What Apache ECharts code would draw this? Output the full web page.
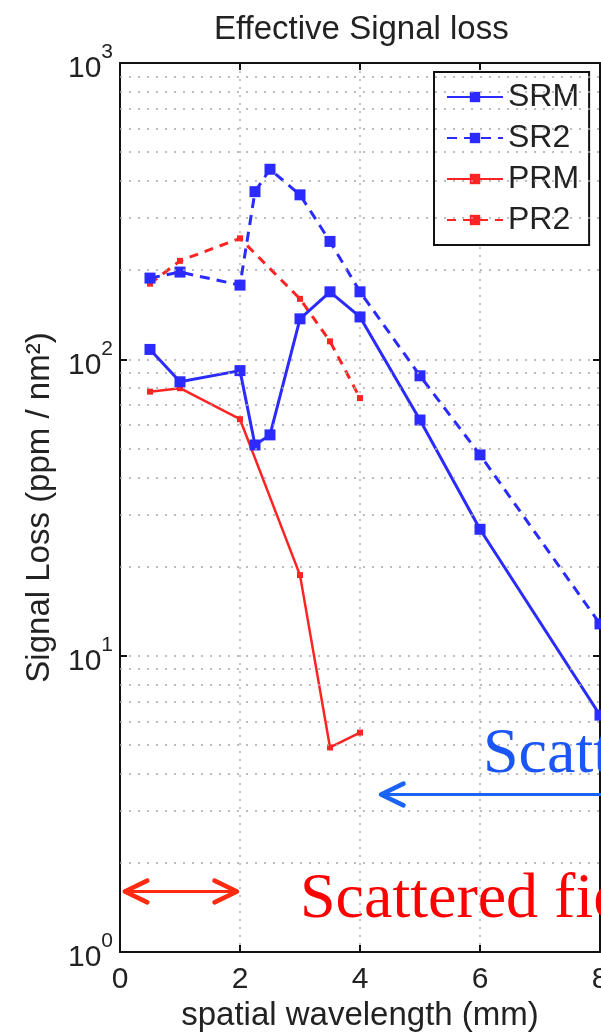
<!DOCTYPE html>
<html>
<head>
<meta charset="utf-8">
<script src="https://cdn.jsdelivr.net/npm/echarts@6.0.0/dist/echarts.min.js"></script>
<style>
  html, body { margin: 0; padding: 0; background: #fff; }
  #chart { width: 601px; height: 1033px; }
</style>
</head>
<body>
<div id="chart"></div>
<script>
// values
const xTicks = [0, 2, 4, 6, 8];
const sX = [0.5, 1, 2, 2.25, 2.5, 3, 3.5, 4, 5, 6, 8];
const srmY = [108, 84, 91.6, 51.4, 55.6, 137, 169, 139, 62.4, 26.7, 6.3];
const sr2Y = [188, 197, 178, 368, 438, 359, 250, 169, 88, 47.6, 12.8];
const pX = [0.5, 1, 2, 3, 3.5, 4];
const prmY = [77.8, 79.9, 62.8, 18.7, 4.9, 5.5];
const pr2Y = [180, 215, 256, 160, 115, 74];
const minorY = [2, 3, 4, 5, 6, 7, 8, 9, 20, 30, 40, 50, 60, 70, 80, 90, 200, 300, 400, 500, 600, 700, 800, 900];
const seriesNames = ['SRM', 'SR2', 'PRM', 'PR2'];

const BLUE = '#2b2bff';
const RED = '#ff2424';
const SANS = 'Liberation Sans, Arial, sans-serif';
const SERIF = 'Liberation Serif, Times New Roman, serif';

const pairs = (xs, ys) => xs.map((x, i) => [x, ys[i]]);

const chart = echarts.init(document.getElementById('chart'));

const option = {
  animation: false,
  backgroundColor: '#fff',
  title: {
    text: 'Effective Signal loss',
    left: 209,
    top: 8,
    textStyle: { fontFamily: SANS, fontSize: 33, fontWeight: 'normal', color: '#222' }
  },
  legend: {
    data: seriesNames,
    orient: 'vertical',
    left: 434,
    top: 72,
    padding: [9, 10, 9, 12],
    itemGap: 9,
    itemWidth: 56,
    itemHeight: 13,
    backgroundColor: '#fff',
    borderColor: '#111',
    borderWidth: 2,
    textStyle: { fontFamily: SANS, fontSize: 32, color: '#222', lineHeight: 32 }
  },
  grid: { left: 120, right: 1, top: 63, bottom: 81, containLabel: false, outerBoundsMode: 'none' },
  xAxis: [{
    type: 'value',
    min: 0, max: 8, interval: 2,
    name: 'spatial wavelength (mm)',
    nameLocation: 'middle',
    nameGap: 46,
    nameTextStyle: { fontFamily: SANS, fontSize: 33, color: '#222' },
    axisLine: { show: true, lineStyle: { color: '#111', width: 2 } },
    axisTick: { show: true, inside: true, length: 7, lineStyle: { color: '#111', width: 2 } },
    axisLabel: {
      margin: 13, fontFamily: SANS, fontSize: 30, color: '#222',
      formatter: v => String(v)
    },
    splitLine: { show: true, lineStyle: { type: [2, 6], color: '#b5b5b5', width: 1.5 } }
  }, {
    type: 'value',
    position: 'top',
    min: 0, max: 8, interval: 2,
    axisLine: { show: true, onZero: false, lineStyle: { color: '#111', width: 2 } },
    axisTick: { show: true, inside: true, length: 7, lineStyle: { color: '#111', width: 2 } },
    axisLabel: { show: false },
    splitLine: { show: false }
  }],
  yAxis: [{
    type: 'log',
    logBase: 10,
    min: 1, max: 1000,
    name: 'Signal Loss (ppm / nm²)',
    nameLocation: 'middle',
    nameGap: 64,
    nameTextStyle: { fontFamily: SANS, fontSize: 33, color: '#222' },
    axisLine: { show: true, lineStyle: { color: '#111', width: 2 } },
    axisTick: { show: true, inside: true, length: 7, lineStyle: { color: '#111', width: 2 } },
    axisLabel: {
      margin: 7,
      formatter: v => '{b|10}{s|' + Math.round(Math.log10(v)) + '}',
      rich: {
        b: { fontFamily: SANS, fontSize: 30, color: '#222', lineHeight: 30, padding: [12, 0, 0, 0] },
        s: { fontFamily: SANS, fontSize: 21, color: '#222', lineHeight: 21, padding: [0, 0, 21, 0] }
      }
    },
    splitLine: { show: true, lineStyle: { type: [2, 7], color: '#a8a8a8', width: 1.5 } }
  }, {
    type: 'log',
    logBase: 10,
    min: 1, max: 1000,
    position: 'right',
    axisLine: { show: true, onZero: false, lineStyle: { color: '#111', width: 2 } },
    axisTick: { show: true, inside: true, length: 7, lineStyle: { color: '#111', width: 2 } },
    axisLabel: { show: false },
    splitLine: { show: false }
  }],
  series: [
    {
      name: 'minor grid',
      type: 'line',
      data: [],
      z: 1,
      silent: true,
      markLine: {
        silent: true,
        symbol: 'none',
        label: { show: false },
        lineStyle: { type: [2, 7], color: '#a8a8a8', width: 1.5 },
        data: minorY.map(v => ({ yAxis: v }))
      }
    },
    {
      name: 'SRM', type: 'line', z: 4,
      data: pairs(sX, srmY),
      symbol: 'rect', symbolSize: 11,
      itemStyle: { color: BLUE },
      lineStyle: { color: BLUE, width: 3, type: 'solid' }
    },
    {
      name: 'SR2', type: 'line', z: 4,
      data: pairs(sX, sr2Y),
      symbol: 'rect', symbolSize: 11,
      itemStyle: { color: BLUE },
      lineStyle: { color: BLUE, width: 3, type: [10, 7] }
    },
    {
      name: 'PRM', type: 'line', z: 3,
      data: pairs(pX, prmY),
      symbol: 'rect', symbolSize: 6,
      itemStyle: { color: RED },
      lineStyle: { color: RED, width: 2.5, type: 'solid' }
    },
    {
      name: 'PR2', type: 'line', z: 3,
      data: pairs(pX, pr2Y),
      symbol: 'rect', symbolSize: 6,
      itemStyle: { color: RED },
      lineStyle: { color: RED, width: 3, type: [9, 7] }
    }
  ]
};

chart.setOption(option);

// annotations, placed in data units through the axes
const px = (x, y) => chart.convertToPixel({ gridIndex: 0 }, [x, y]);

function arrow(from, to, color, both) {
  const a = px(from[0], from[1]);
  const b = px(to[0], to[1]);
  const els = [{
    type: 'line', z: 10,
    shape: { x1: a[0], y1: a[1], x2: b[0], y2: b[1] },
    style: { stroke: color, lineWidth: 3 }
  }];
  const head = (tip, back) => {
    const dx = back[0] - tip[0], dy = back[1] - tip[1];
    const len = Math.hypot(dx, dy), ux = dx / len, uy = dy / len;
    const L = 25, ang = 0.45;
    const c = Math.cos(ang), s = Math.sin(ang);
    const p1 = [tip[0] + L * (ux * c - uy * s), tip[1] + L * (uy * c + ux * s)];
    const p2 = [tip[0] + L * (ux * c + uy * s), tip[1] + L * (uy * c - ux * s)];
    return {
      type: 'polyline', z: 10,
      shape: { points: [p1, tip, p2] },
      style: { stroke: color, lineWidth: 4.5, fill: null, lineCap: 'round', lineJoin: 'round' }
    };
  };
  els.push(head(a, b));
  if (both) els.push(head(b, a));
  return els;
}

function label(x, y, text, color) {
  const p = px(x, y);
  return {
    type: 'text', z: 10,
    x: p[0], y: p[1],
    style: {
      text: text, fill: color,
      font: '64px ' + SERIF,
      align: 'left', verticalAlign: 'bottom'
    }
  };
}

chart.setOption({
  graphic: [
    ...arrow([0.08, 1.6], [1.95, 1.6], '#ff2a10', true),
    ...arrow([4.35, 3.4], [8.2, 3.4], '#1a63f5', false),
    label(3.0, 1.17, 'Scattered field', '#ff0000'),
    label(6.05, 3.6, 'Scattered field', '#1a55f5')
  ]
});
</script>
</body>
</html>
